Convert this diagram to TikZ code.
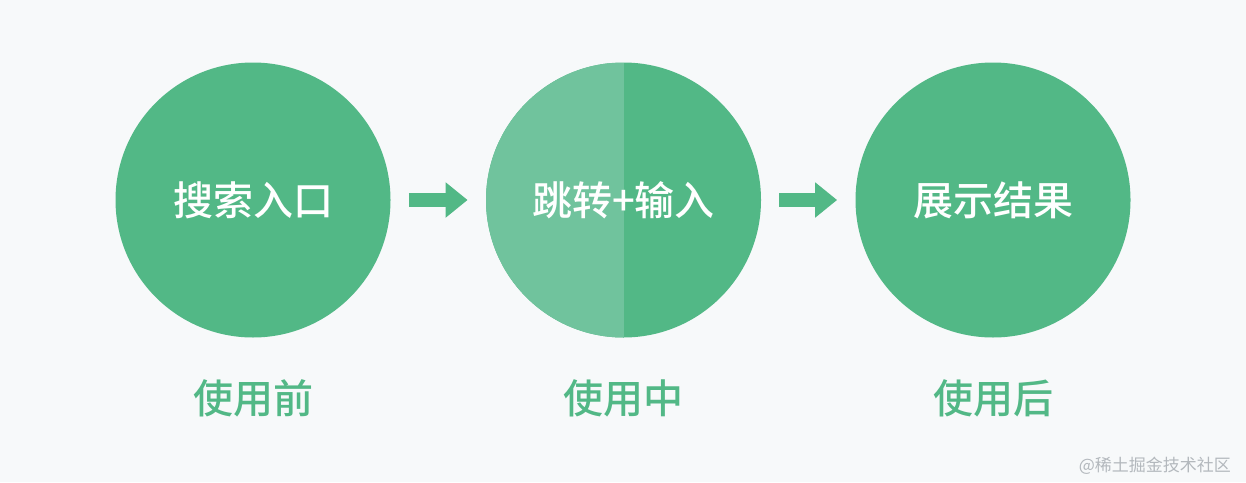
\documentclass[tikz,border=0pt]{standalone}
\usepackage{fontspec}
\newfontfamily\cjk{Noto Sans CJK SC}
\newfontfamily\cjkmed{Noto Sans CJK SC Medium}
\usepackage{tikz}
\usetikzlibrary{arrows.meta}
\usepackage{xcolor}
\definecolor{bgcol}{HTML}{F7F9FA}
\definecolor{stepgreen}{HTML}{52B886}
\definecolor{stepgreenlight}{HTML}{70C39D}
\definecolor{markgray}{HTML}{B3B8BD}

\begin{document}
\begin{tikzpicture}[x=0.5pt, y=-0.5pt,
        stage/.style={circle, fill=stepgreen, minimum size=137.5pt, inner sep=0pt,
            text=white, font=\cjkmed\fontsize{20}{24}\selectfont},
        phase/.style={text=stepgreen, font=\cjkmed\fontsize{20}{24}\selectfont},
        flow/.style={stepgreen, line width=7pt, shorten <=9pt, shorten >=9pt,
            -{Triangle[length=11pt, width=17pt]}}]

            % 1. Background
            \fill[bgcol] (0,0) rectangle (1246,482);
            \useasboundingbox (0,0) rectangle (1246,482);

            % 2. The three stages
            \node[stage] (before) at (253,200) {搜索入口};
            \node[stage, path picture={
                \fill[stepgreenlight] (path picture bounding box.north west)
                    rectangle (path picture bounding box.south);
            }] (during) at (623.5,200) {跳转+输入};
            \node[stage] (after) at (993,200) {展示结果};

            % 3. Arrows between stages
            \draw[flow] (before) -- (during);
            \draw[flow] (during) -- (after);

            % 4. Phase labels
            \node[phase] (lbefore) at (253,398) {使用前};
            \node[phase] (lduring) at (623.5,398) {使用中};
            \node[phase] (lafter) at (993,398) {使用后};

            % 5. Watermark
            \node[anchor=east, text=markgray, font=\cjk\fontsize{8.5}{10}\selectfont]
                (mark) at (1238,466) {@稀土掘金技术社区};

        \end{tikzpicture}
\end{document}
